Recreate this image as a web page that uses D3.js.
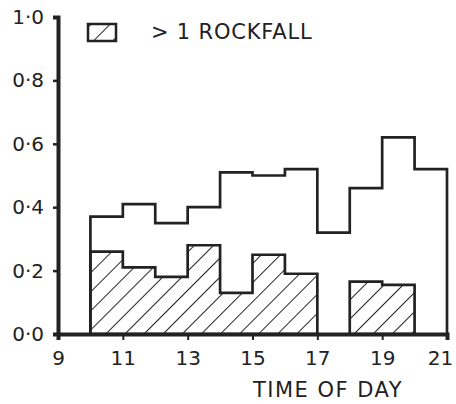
<!DOCTYPE html>
<html>
<head>
<meta charset="utf-8">
<script src="https://cdn.jsdelivr.net/npm/d3@7"></script>
<style>
  body { margin: 0; background: #fff; }
  text { font-family: "DejaVu Sans", sans-serif; fill: #222; }
</style>
</head>
<body>
<div id="chart"></div>
<script>
const [width, height] = [456, 404];

// hour bins (start of each hour), all events and >1 rockfall
const hours = [10, 11, 12, 13, 14, 15, 16, 17, 18, 19, 20];
const allValues = [0.37, 0.41, 0.35, 0.40, 0.51, 0.50, 0.52, 0.32, 0.46, 0.62, 0.52];
const multiValues = [0.26, 0.21, 0.18, 0.28, 0.13, 0.25, 0.19, 0, 0.165, 0.155, 0];
const xTicks = [9, 11, 13, 15, 17, 19, 21];
const yTicks = [0, 0.2, 0.4, 0.6, 0.8, 1.0];
const legendLabel = "> 1 ROCKFALL";
const xTitle = "TIME OF DAY";

const svg = d3.select("#chart")
  .append("svg")
  .attr("width", width)
  .attr("height", height);

const x = d3.scaleLinear().domain([9, 21]).range([58, 447]);
const y = d3.scaleLinear().domain([0, 1]).range([334, 17]);

// hatch pattern
const defs = svg.append("defs");
defs.append("pattern")
  .attr("id", "hatch")
  .attr("patternUnits", "userSpaceOnUse")
  .attr("width", 13.5)
  .attr("height", 13.5)
  .attr("patternTransform", "rotate(45)")
  .append("line")
  .attr("x1", 0).attr("y1", 0)
  .attr("x2", 0).attr("y2", 13.5)
  .attr("stroke", "#222")
  .attr("stroke-width", 2);

const ink = "#222";

// step outline built from bins
function stepPoints(vals) {
  const pts = [[x(hours[0]), y(0)]];
  vals.forEach((v, i) => {
    pts.push([x(hours[i]), y(v)]);
    pts.push([x(hours[i] + 1), y(v)]);
  });
  pts.push([x(hours[hours.length - 1] + 1), y(0)]);
  return pts;
}

// hatched runs (contiguous nonzero bins)
const runs = [];
let cur = null;
multiValues.forEach((v, i) => {
  if (v > 0) {
    if (!cur) { cur = { idx: [] }; runs.push(cur); }
    cur.idx.push(i);
  } else cur = null;
});

runs.forEach(r => {
  const pts = [[x(hours[r.idx[0]]), y(0)]];
  r.idx.forEach(i => {
    pts.push([x(hours[i]), y(multiValues[i])]);
    pts.push([x(hours[i] + 1), y(multiValues[i])]);
  });
  pts.push([x(hours[r.idx[r.idx.length - 1]] + 1), y(0)]);
  svg.append("path")
    .attr("d", d3.line()(pts) + "Z")
    .attr("fill", "url(#hatch)")
    .attr("stroke", ink)
    .attr("stroke-width", 2.7);
});

svg.append("path")
  .attr("d", d3.line()(stepPoints(allValues)))
  .attr("fill", "none")
  .attr("stroke", ink)
  .attr("stroke-width", 2.7);

// axes
const xAxis = svg.append("g")
  .attr("transform", `translate(0, ${y(0)})`)
  .call(d3.axisBottom(x).tickValues(xTicks).tickSize(6).tickFormat(d3.format("d")));
xAxis.select(".domain").attr("stroke", ink).attr("stroke-width", 4);
xAxis.selectAll(".tick line").attr("stroke", ink).attr("stroke-width", 2);
xAxis.selectAll(".tick text")
  .attr("y", 17)
  .attr("dx", d => d === 21 ? -7 : 0)
  .style("font-size", "20px")
  .style("font-family", "DejaVu Sans, sans-serif");

const yAxis = svg.append("g")
  .attr("transform", `translate(${x(9)}, 0)`)
  .call(d3.axisLeft(y).tickValues(yTicks).tickSize(5)
    .tickFormat(d => d3.format(".1f")(d).replace(".", "·")));
yAxis.select(".domain").attr("stroke", ink).attr("stroke-width", 4);
yAxis.selectAll(".tick line").attr("stroke", ink).attr("stroke-width", 2.5);
yAxis.selectAll(".tick text")
  .attr("x", -14)
  .style("font-size", "20px")
  .style("font-family", "DejaVu Sans, sans-serif");

// axis title
svg.append("text")
  .attr("x", 328)
  .attr("y", 397)
  .attr("text-anchor", "middle")
  .style("font-size", "21px")
  .style("letter-spacing", "1.5px")
  .text(xTitle);

// legend
svg.append("rect")
  .attr("x", 88).attr("y", 24)
  .attr("width", 28).attr("height", 17)
  .attr("fill", "url(#hatch)")
  .attr("stroke", ink)
  .attr("stroke-width", 2.5);
svg.append("text")
  .attr("x", 151)
  .attr("y", 39)
  .style("font-size", "21px")
  .style("letter-spacing", "0.8px")
  .text(legendLabel);
</script>
</body>
</html>
